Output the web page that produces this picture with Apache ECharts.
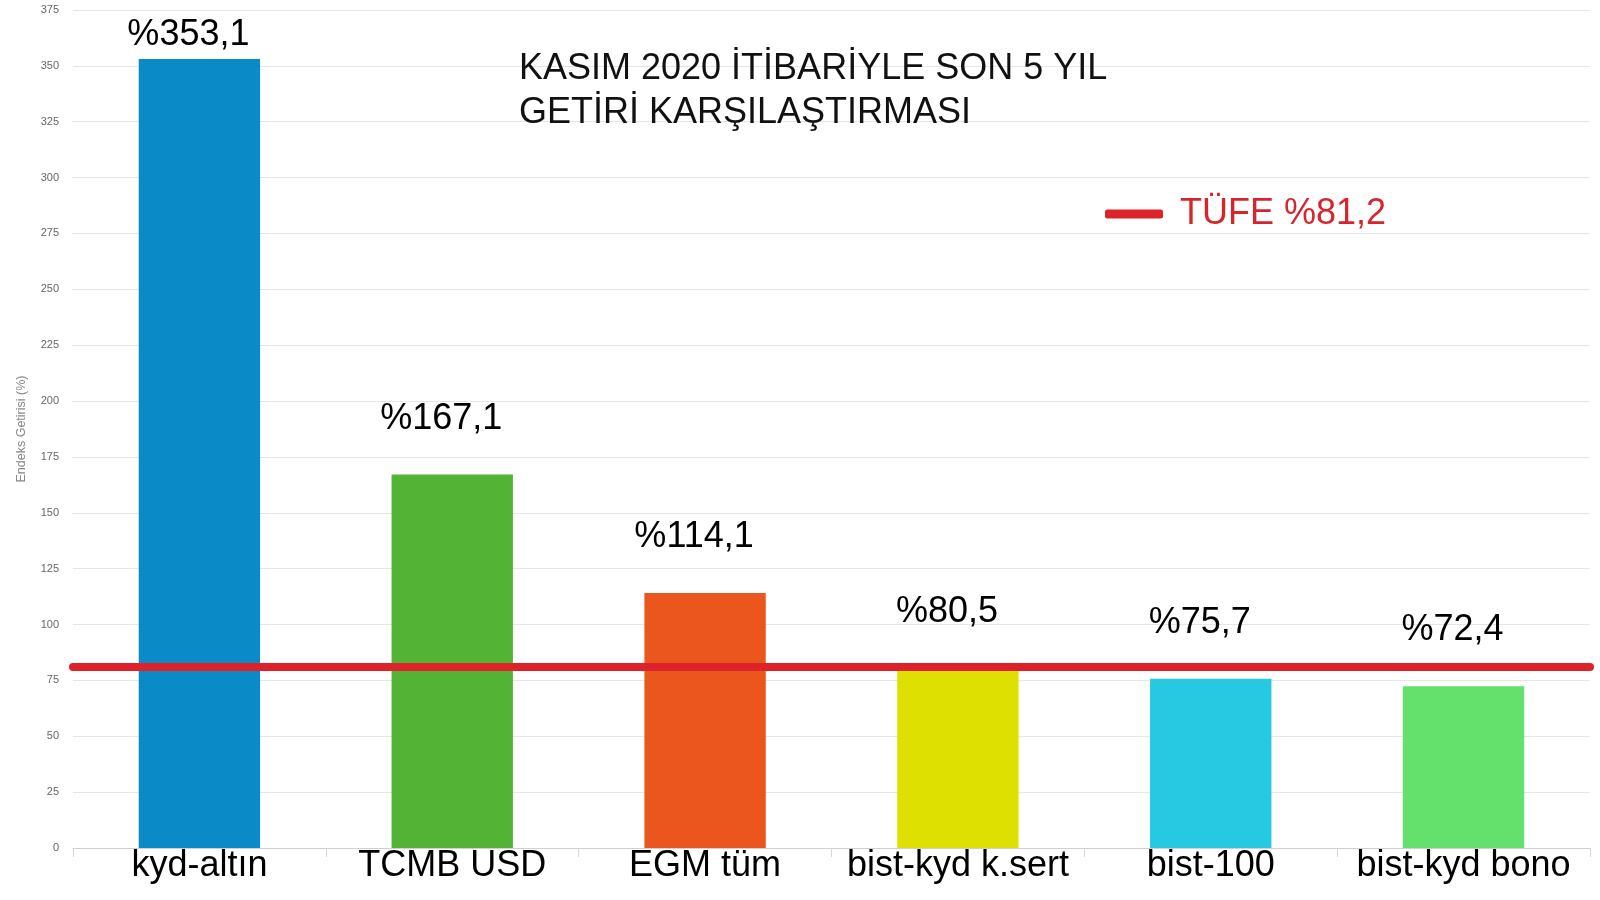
<!DOCTYPE html>
<html style="height: 100%;">
<head>
    <meta charset="UTF-8">
    <script src="https://cdn.jsdelivr.net/npm/echarts/dist/echarts.min.js"></script>
</head>
<body style="height: 100%; margin: 0; background: #fff;">
    <div id="chart" style="width: 1600px; height: 900px;"></div>

    <script type="text/javascript">
        // Data
        var categories = ['kyd-altın', 'TCMB USD', 'EGM tüm', 'bist-kyd k.sert', 'bist-100', 'bist-kyd bono'];
        var returns = [353.1, 167.1, 114.1, 80.5, 75.7, 72.4];
        var tufe = 81.2;
        var tufeName = 'TÜFE %81,2';
        var titleText = 'KASIM 2020 İTİBARİYLE SON 5 YIL\nGETİRİ KARŞILAŞTIRMASI';

        var barColors = ['#0a8ac6', '#52b335', '#ea561e', '#dde000', '#26c8e2', '#64e06c'];
        var font = '"Liberation Sans", Arial, sans-serif';

        var chart = echarts.init(document.getElementById('chart'));

        // bar data with colours; the first label sits closer to its bar (top of chart)
        var barData = returns.map(function (v, i) {
            var item = { value: v, itemStyle: { color: barColors[i] } };
            if (i === 0) {
                item.label = { distance: 6 };
            }
            return item;
        });

        var option = {
            backgroundColor: '#fff',
            animation: false,
            title: {
                text: titleText,
                left: 514,
                top: 42,
                textStyle: {
                    fontFamily: font,
                    fontSize: 36,
                    fontWeight: 'normal',
                    color: '#111',
                    lineHeight: 44
                }
            },
            legend: {
                left: 1100,
                top: 191,
                itemWidth: 58,
                itemHeight: 9,
                icon: 'roundRect',
                textStyle: {
                    fontFamily: font,
                    fontSize: 36,
                    color: '#d6262d',
                    padding: [0, 0, 0, 12]
                },
                data: [tufeName]
            },
            grid: {
                left: 73,
                right: 10,
                top: 10,
                bottom: 52
            },
            xAxis: {
                type: 'category',
                data: categories,
                axisLine: { lineStyle: { color: '#d0d0d0' } },
                axisTick: { show: true, length: 9, lineStyle: { color: '#d8d8d8' } },
                axisLabel: {
                    fontFamily: font,
                    fontSize: 36,
                    color: '#000',
                    margin: 0,
                    interval: 0
                }
            },
            yAxis: {
                type: 'value',
                min: 0,
                max: 375,
                interval: 25,
                name: 'Endeks Getirisi (%)',
                nameLocation: 'middle',
                nameGap: 45,
                nameTextStyle: {
                    fontFamily: font,
                    fontSize: 12.5,
                    color: '#888'
                },
                axisLabel: {
                    fontFamily: font,
                    fontSize: 11,
                    color: '#666',
                    margin: 14
                },
                splitLine: { lineStyle: { color: '#e6e6e6' } }
            },
            series: [
                {
                    name: 'Getiri',
                    type: 'bar',
                    data: barData,
                    barWidth: '48%',
                    label: {
                        show: true,
                        position: 'top',
                        distance: 38,
                        offset: [-11, 0],
                        fontFamily: font,
                        fontSize: 36,
                        color: '#000',
                        formatter: function (p) {
                            return '%' + String(p.value).replace('.', ',');
                        }
                    },
                    z: 2
                },
                {
                    // TÜFE reference line across the whole plot
                    name: tufeName,
                    type: 'line',
                    data: [],
                    itemStyle: { color: '#de2229' },
                    lineStyle: { color: '#de2229', width: 9 },
                    markLine: {
                        silent: true,
                        symbol: ['none', 'none'],
                        label: { show: false },
                        lineStyle: {
                            type: 'solid',
                            width: 8,
                            color: '#de2229',
                            cap: 'round'
                        },
                        data: [{ yAxis: tufe }]
                    },
                    z: 3
                }
            ]
        };

        chart.setOption(option);
        window.addEventListener('resize', chart.resize);
    </script>
</body>
</html>
